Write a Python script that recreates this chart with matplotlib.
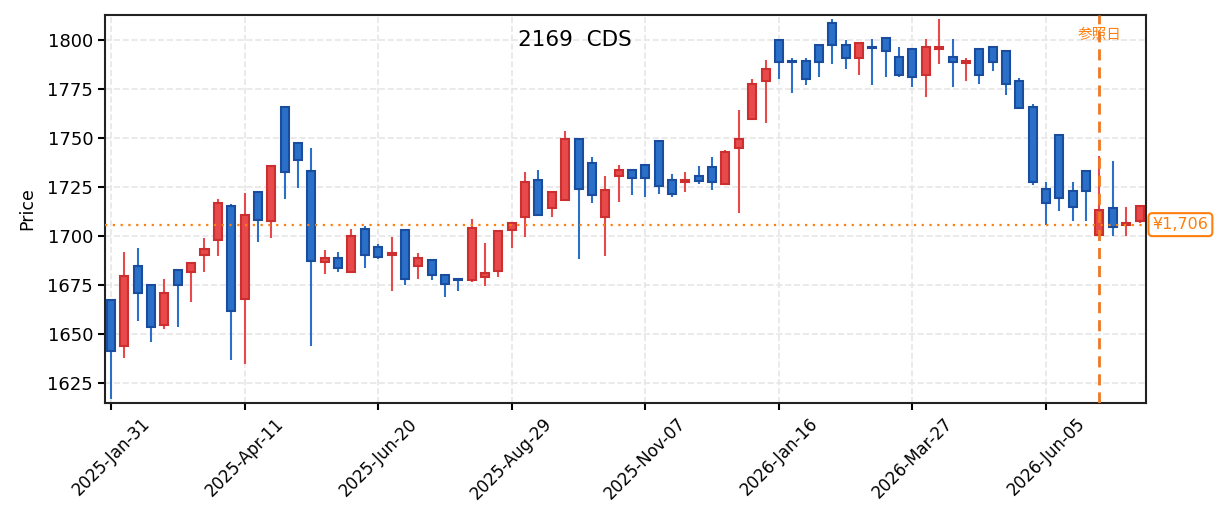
import numpy as np
import matplotlib
matplotlib.use("Agg")
import matplotlib.pyplot as plt
from matplotlib.patches import Rectangle

plt.rcParams['font.family'] = ['DejaVu Sans', 'Noto Sans CJK JP']

# weekly candles, 2025-Jan-31 .. 2026-Jul-24
opens = [1667.5, 1644, 1685, 1675, 1655, 1683, 1682, 1690.5, 1698, 1715.5,
         1668, 1722.5, 1708, 1766, 1747.5, 1733.5, 1687, 1689, 1682, 1704,
         1694.5, 1690.5, 1703.5, 1685, 1688, 1680.5, 1678, 1677.5, 1679.5, 1682.5,
         1703.5, 1710, 1729, 1714.5, 1718.5, 1749.5, 1737.5, 1710, 1731, 1734,
         1736.5, 1748.5, 1729, 1727.5, 1731, 1735.5, 1726.5, 1745, 1760, 1779.5,
         1800, 1789.5, 1789.5, 1797.5, 1809, 1797.5, 1791, 1796.5, 1801, 1791.5,
         1795.5, 1782.5, 1795.5, 1791.5, 1788.5, 1795.5, 1796.5, 1794.5, 1779.5, 1766,
         1724, 1751.5, 1723, 1733.5, 1700.5, 1714.5, 1706, 1708]
closes = [1641.5, 1680, 1671, 1654, 1671, 1675, 1686.5, 1693.5, 1717, 1662,
          1711, 1708.5, 1736, 1733, 1739, 1687.5, 1689, 1684, 1700, 1690.5,
          1689.5, 1691.5, 1678.5, 1689, 1680.5, 1675.5, 1677.5, 1704.5, 1681.5, 1702.5,
          1707, 1727.5, 1711, 1722.5, 1749.5, 1724, 1721, 1723.5, 1734, 1730,
          1730, 1725.5, 1721.5, 1729, 1728.5, 1727.5, 1743, 1749.5, 1777.5, 1785.5,
          1789, 1789, 1780.5, 1789, 1797.5, 1791, 1798.5, 1796, 1794.5, 1782.5,
          1781.5, 1796.5, 1796.5, 1789, 1789.5, 1782.5, 1789, 1777.5, 1765.5, 1728,
          1717, 1719.5, 1715, 1723, 1713.5, 1705, 1707, 1715.5]
highs = [1668, 1692, 1694, 1675.5, 1678.5, 1683.5, 1687, 1699, 1719, 1716.5,
         1722, 1723, 1736.5, 1766.5, 1748, 1745, 1693, 1692, 1704, 1705.5,
         1696, 1699.5, 1704, 1691.5, 1688.5, 1681, 1678.5, 1709, 1696.5, 1703,
         1707.5, 1733, 1734, 1723, 1754, 1750, 1740.5, 1731, 1736.5, 1734.5,
         1737, 1749, 1732, 1733, 1736, 1740.5, 1744, 1764.5, 1780.5, 1790,
         1800.5, 1791, 1791, 1798, 1811, 1800, 1799, 1800.5, 1801.5, 1796.5,
         1796, 1800.5, 1811, 1800.5, 1791, 1796, 1797, 1795, 1781, 1767.5,
         1728, 1752, 1728, 1734, 1741, 1738.5, 1715, 1715.5]
lows = [1617, 1638, 1657, 1646, 1653, 1654, 1666.5, 1682, 1690, 1637,
        1635, 1697, 1699, 1719, 1724.5, 1644, 1681, 1682, 1682, 1684,
        1688.5, 1672, 1675, 1678.5, 1677.5, 1669, 1672, 1676.5, 1674.5, 1679.5,
        1694, 1699.5, 1711, 1710, 1718, 1688.5, 1717, 1690, 1717.5, 1721,
        1720, 1721.5, 1720, 1722.5, 1726.5, 1723.5, 1726, 1712, 1759.5, 1758,
        1780.5, 1773, 1777, 1781.5, 1788, 1785.5, 1782.5, 1777, 1781.5, 1781.5,
        1776, 1771, 1788, 1776, 1779.5, 1777.5, 1784.5, 1772, 1765, 1726,
        1706, 1713, 1708, 1708, 1700.5, 1700, 1700, 1707]
tick_labels = ['2025-Jan-31', '2025-Apr-11', '2025-Jun-20', '2025-Aug-29',
               '2025-Nov-07', '2026-Jan-16', '2026-Mar-27', '2026-Jun-05']
ref_index = 74
ref_price = 1706
title = '2169  CDS'

up_face, up_edge = '#e8494a', '#cc2f30'
dn_face, dn_edge = '#2a70c8', '#1a4d9e'

fig = plt.figure(figsize=(12.25, 5.32), dpi=100)
ax = fig.add_axes([0.0857, 0.2425, 0.85, 0.7295])

width = 0.6
for i in range(len(opens)):
    o, c, h, l = opens[i], closes[i], highs[i], lows[i]
    up = c >= o
    face = up_face if up else dn_face
    edge = up_edge if up else dn_edge
    ax.vlines(i, l, h, color=face, linewidth=1.5, zorder=2)
    bot = min(o, c)
    ht = max(abs(c - o), 0.6)
    ax.add_patch(Rectangle((i - width / 2, bot), width, ht, facecolor=face,
                           edgecolor=edge, linewidth=1.5, zorder=3))

ax.axhline(ref_price, color='#ff7f0e', linestyle=(0, (1, 2.5)), linewidth=1.6, zorder=4)
ax.axvline(ref_index, color='#f07820', linestyle=(0, (4, 2.5)), linewidth=2, zorder=4)
ax.text(ref_index, 1803, '参照日', color='#ff7f0e', fontsize=10.5, ha='center', va='center')
ax.text(1.006, ref_price, '¥1,706', transform=ax.get_yaxis_transform(), color='#ff7f0e',
        fontsize=11.5, ha='left', va='center',
        bbox=dict(boxstyle='round,pad=0.25', facecolor='white', edgecolor='#ff7f0e', linewidth=1.5))
ax.text(0.4515, 0.962, title, transform=ax.transAxes, fontsize=15.5, ha='center', va='top')

ax.set_xlim(-0.45, 77.5)
ax.set_ylim(1615, 1813)
ax.set_yticks([1625, 1650, 1675, 1700, 1725, 1750, 1775, 1800])
ax.set_xticks(np.arange(0, 80, 10))
ax.set_xticklabels(tick_labels, rotation=45, ha='center', fontsize=12)
ax.tick_params(axis='y', labelsize=13, width=1.5, length=5)
ax.tick_params(axis='x', width=1.5, length=5)
ax.set_ylabel('Price', fontsize=12.5, labelpad=8)
ax.grid(True, color='#e6e6e6', linestyle='--', linewidth=1.2)
ax.set_axisbelow(True)
for s in ax.spines.values():
    s.set_linewidth(1.5)
    s.set_color('#222222')

fig.savefig('out.png', dpi=100)
